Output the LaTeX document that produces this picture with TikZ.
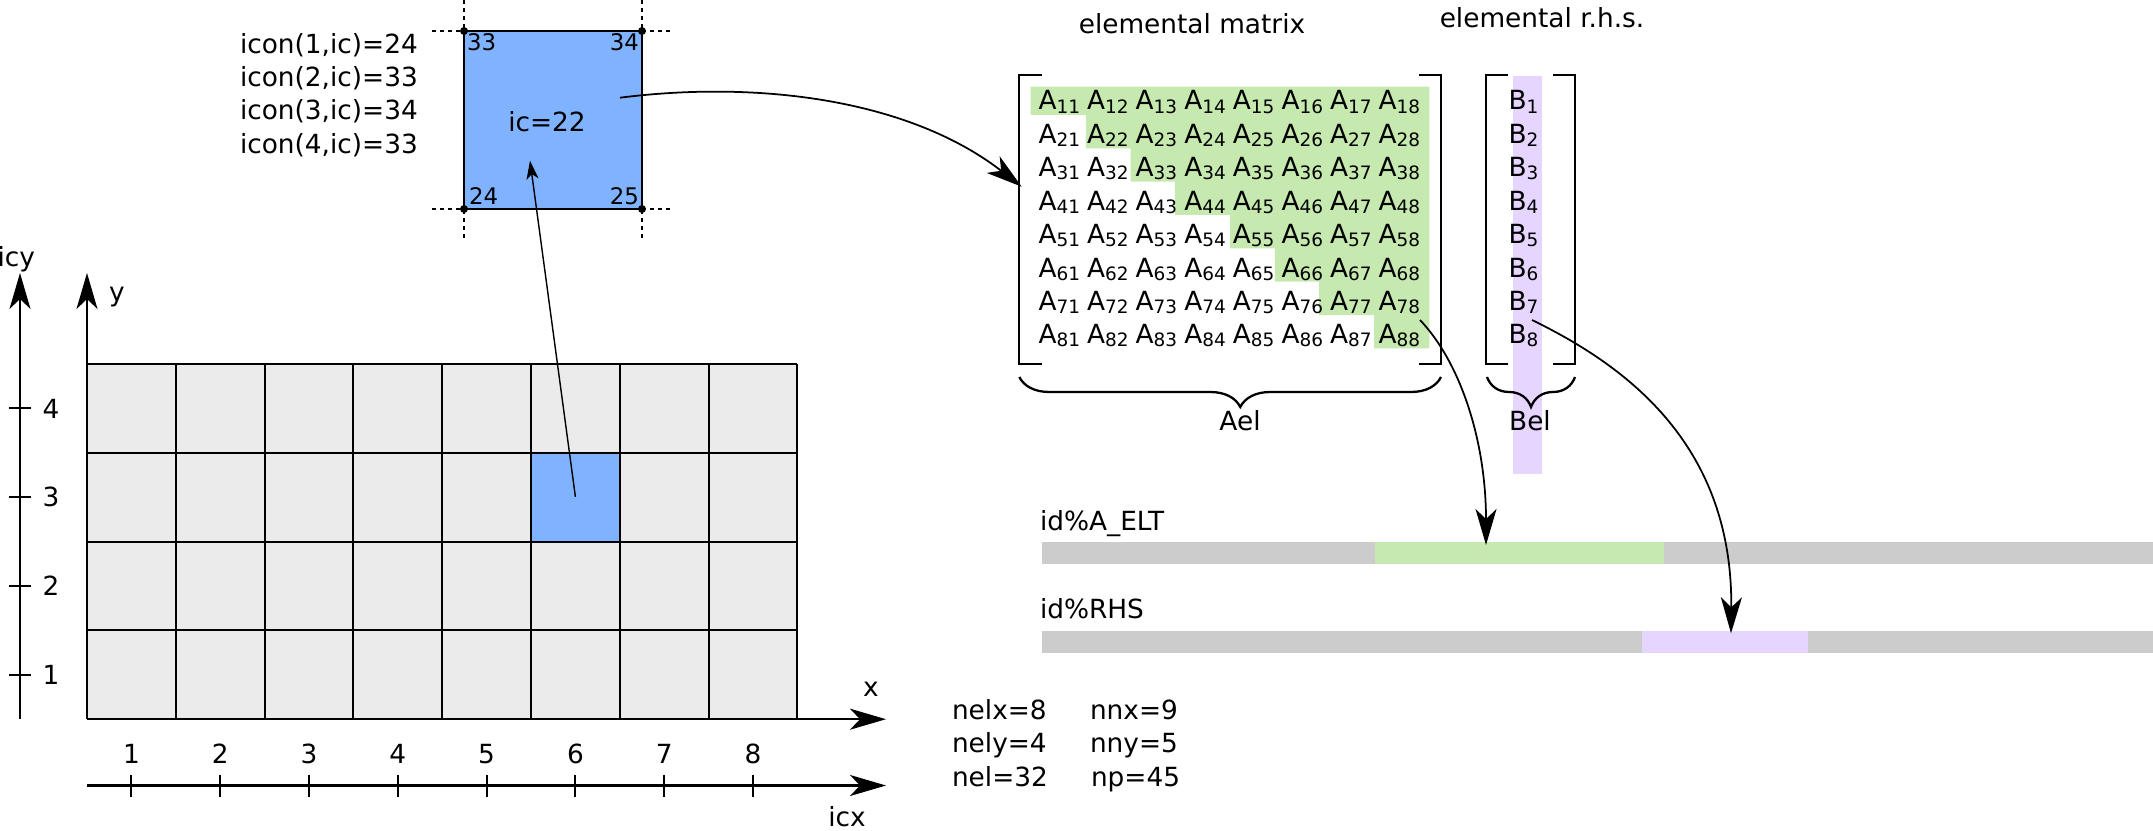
\documentclass[tikz,border=0pt]{standalone}
\usepackage{fontspec}
\setmainfont{DejaVu Sans}
\usetikzlibrary{arrows.meta,decorations.pathreplacing}
\definecolor{cellgray}{HTML}{EBEBEB}
\definecolor{selblue}{HTML}{80B3FF}
\definecolor{matgreen}{HTML}{C6E9AF}
\definecolor{vecviolet}{HTML}{E5D5FF}
\definecolor{bargray}{HTML}{CCCCCC}
\newcommand\sbs[1]{\raisebox{-1.8pt}{\fontsize{10.5}{10.5}\selectfont #1}}
\begin{document}
\begin{tikzpicture}[x=0.02cm,y=-0.02cm,
  every node/.style={inner sep=0pt,outer sep=0pt},
  font=\fontsize{15}{18}\selectfont,
  gridline/.style={line width=1.2pt},
  axisline/.style={line width=1.2pt,-{Stealth[length=0.72cm,width=0.42cm,inset=0.2cm]}},
  bigarrow/.style={line width=1pt,-{Stealth[length=0.72cm,width=0.42cm,inset=0.2cm]}},
  smallarrow/.style={line width=0.8pt,-{Stealth[length=0.37cm,width=0.24cm,inset=0.1cm]}},
  tickline/.style={line width=1.2pt},
  dashline/.style={line width=1.1pt,dash pattern=on 2.3pt off 2.3pt},
  bracketline/.style={line width=1.3pt},
  bracestyle/.style={line width=1.3pt,decorate},
  cornerlbl/.style={font=\fontsize{13}{13}\selectfont},
  lbl/.style={anchor=base},
  lblw/.style={anchor=base west},
  entry/.style={anchor=base west}]
\useasboundingbox (0,0) rectangle (2153,831);

% ---------------- grid ----------------
\fill[cellgray] (87,364) rectangle (797.4,719.2);
\fill[selblue] (531,452.8) rectangle (619.8,541.6);
\foreach \i in {0,...,8} \draw[gridline] ({87+88.8*\i},364) -- ({87+88.8*\i},719.2);
\foreach \j in {0,...,4} \draw[gridline] (87,{364+88.8*\j}) -- (797.4,{364+88.8*\j});

% axes
\draw[axisline] (87,719.2) -- (886,719.2);
\draw[axisline] (87,719.2) -- (87,273);
\node[lbl] (xlbl) at (871,696) {x};
\node[lbl] (ylbl) at (117,301) {y};

% icy axis
\draw[axisline] (20,719.2) -- (20,273);
\node[anchor=base east] (icylbl) at (35,266) {icy};
\foreach \k/\n in {0/4,1/3,2/2,3/1}{
  \draw[tickline] (9,{408.4+88.8*\k}) -- (31,{408.4+88.8*\k});
  \node[lbl] (icy\n) at (51,{418+88.8*\k}) {\n};
}
% icx axis
\draw[axisline] (87,785.5) -- (886,785.5);
\node[lbl] (icxlbl) at (847,826) {icx};
\foreach \n in {1,...,8}{
  \draw[tickline] ({87+88.8*(\n-0.5)},774.5) -- ({87+88.8*(\n-0.5)},796.5);
  \node[lbl] (icx\n) at ({87+88.8*(\n-0.5)},763.6) {\n};
}

% counts
\node[lblw] (nelx) at (952,719.3) {nelx=8};
\node[lblw] (nely) at (952,752.7) {nely=4};
\node[lblw] (nel) at (952,786) {nel=32};
\node[lblw] (nnx) at (1090,719.3) {nnx=9};
\node[lblw] (nny) at (1090,752.7) {nny=5};
\node[lblw] (np) at (1091,786) {np=45};

% ---------------- element box ----------------
\draw[dashline] (432,31) -- (674,31);
\draw[dashline] (432,209) -- (674,209);
\draw[dashline] (464,0) -- (464,240);
\draw[dashline] (642,0) -- (642,240);
\node[draw=black,fill=selblue,line width=1.1pt,minimum width=3.56cm,minimum height=3.56cm] (icbox) at (553,120) {};
\foreach \c in {north west,north east,south west,south east} \fill (icbox.\c) circle[radius=4];
\node[lbl] (iclbl) at (547,131.7) {ic=22};
\node[cornerlbl,anchor=base west] (c33) at (467,50.7) {33};
\node[cornerlbl,anchor=base east] (c34) at (639,50.7) {34};
\node[cornerlbl,anchor=base west] (c24) at (469,204.3) {24};
\node[cornerlbl,anchor=base east] (c25) at (639,204.3) {25};

\node[lblw] (icon1) at (240,53.3) {icon(1,ic)=24};
\node[lblw] (icon2) at (240,86.7) {icon(2,ic)=33};
\node[lblw] (icon3) at (240,120) {icon(3,ic)=34};
\node[lblw] (icon4) at (240,153.3) {icon(4,ic)=33};

\coordinate (cellc) at (575.4,496.8);
\coordinate (ictip) at (530,160.7);
\draw[smallarrow] (cellc) -- (ictip);

% ---------------- elemental matrix ----------------
\node[lbl] (mattitle) at (1192,33.3) {elemental matrix};
\node[lbl] (rhstitle) at (1542,27.7) {elemental r.h.s.};

\fill[matgreen] (1030.5,86.7) -- (1429.4,86.7) -- (1429.4,348.3) -- (1374,348.3) -- (1374,315)
  -- (1319,315) -- (1319,281.7) -- (1274.8,281.7) -- (1274.8,248.3) -- (1230.2,248.3)
  -- (1230.2,215) -- (1174.8,215) -- (1174.8,181.7) -- (1130.5,181.7) -- (1130.5,148.3)
  -- (1085.9,148.3) -- (1085.9,115) -- (1030.5,115) -- cycle;
\fill[vecviolet] (1513,76) rectangle (1541.7,474);

\draw[bracketline] (1041.7,75) -- (1019.3,75) -- (1019.3,364) -- (1041.7,364);
\draw[bracketline] (1419,75) -- (1441,75) -- (1441,364) -- (1419,364);
\draw[bracketline] (1508,75) -- (1486,75) -- (1486,364) -- (1508,364);
\draw[bracketline] (1553,75) -- (1575,75) -- (1575,364) -- (1553,364);

\foreach \i in {1,...,8}{
  \foreach \j in {1,...,8}{
    \node[entry] (A\i\j) at ({1038.5+48.6*(\j-1)},{110+33.4*(\i-1)}) {A\sbs{\i\j}};
  }
  \node[entry] (B\i) at (1508.5,{110+33.4*(\i-1)}) {B\sbs{\i}};
}

\draw[bracestyle,decoration={brace,mirror,amplitude=0.6cm,aspect=0.524}] (1019.3,377) -- (1441,377);
\draw[bracestyle,decoration={brace,mirror,amplitude=0.6cm,aspect=0.5}] (1487,377) -- (1575,377);
\node[lbl] (ael) at (1240,430) {Ael};
\node[lbl] (bel) at (1530,430) {Bel};

% ---------------- storage bars ----------------
\node[lblw] (aeltlbl) at (1040,530) {id\%A\_ELT};
\node[lblw] (rhslbl) at (1040,618.3) {id\%RHS};
\fill[bargray] (1041.7,542) rectangle (2153,563.5);
\fill[matgreen] (1374.5,542) rectangle (1664,563.5);
\fill[bargray] (1041.7,631) rectangle (2153,652.5);
\fill[vecviolet] (1642,631) rectangle (1808,652.5);

% ---------------- connectors ----------------
\coordinate (boxout) at (620,97.7);
\coordinate (matin) at (1021.7,186.7);
\draw[bigarrow] (boxout) .. controls (760,80) and (910,100) .. (matin);

\coordinate (aout) at (1420,320);
\coordinate (ain) at (1486,545);
\draw[bigarrow] (aout) .. controls (1460,362) and (1486,440) .. (ain);

\coordinate (bout) at (1532,320);
\coordinate (bin) at (1731,633.3);
\draw[bigarrow] (bout) .. controls (1620,363) and (1733,440) .. (bin);
\end{tikzpicture}
\end{document}
